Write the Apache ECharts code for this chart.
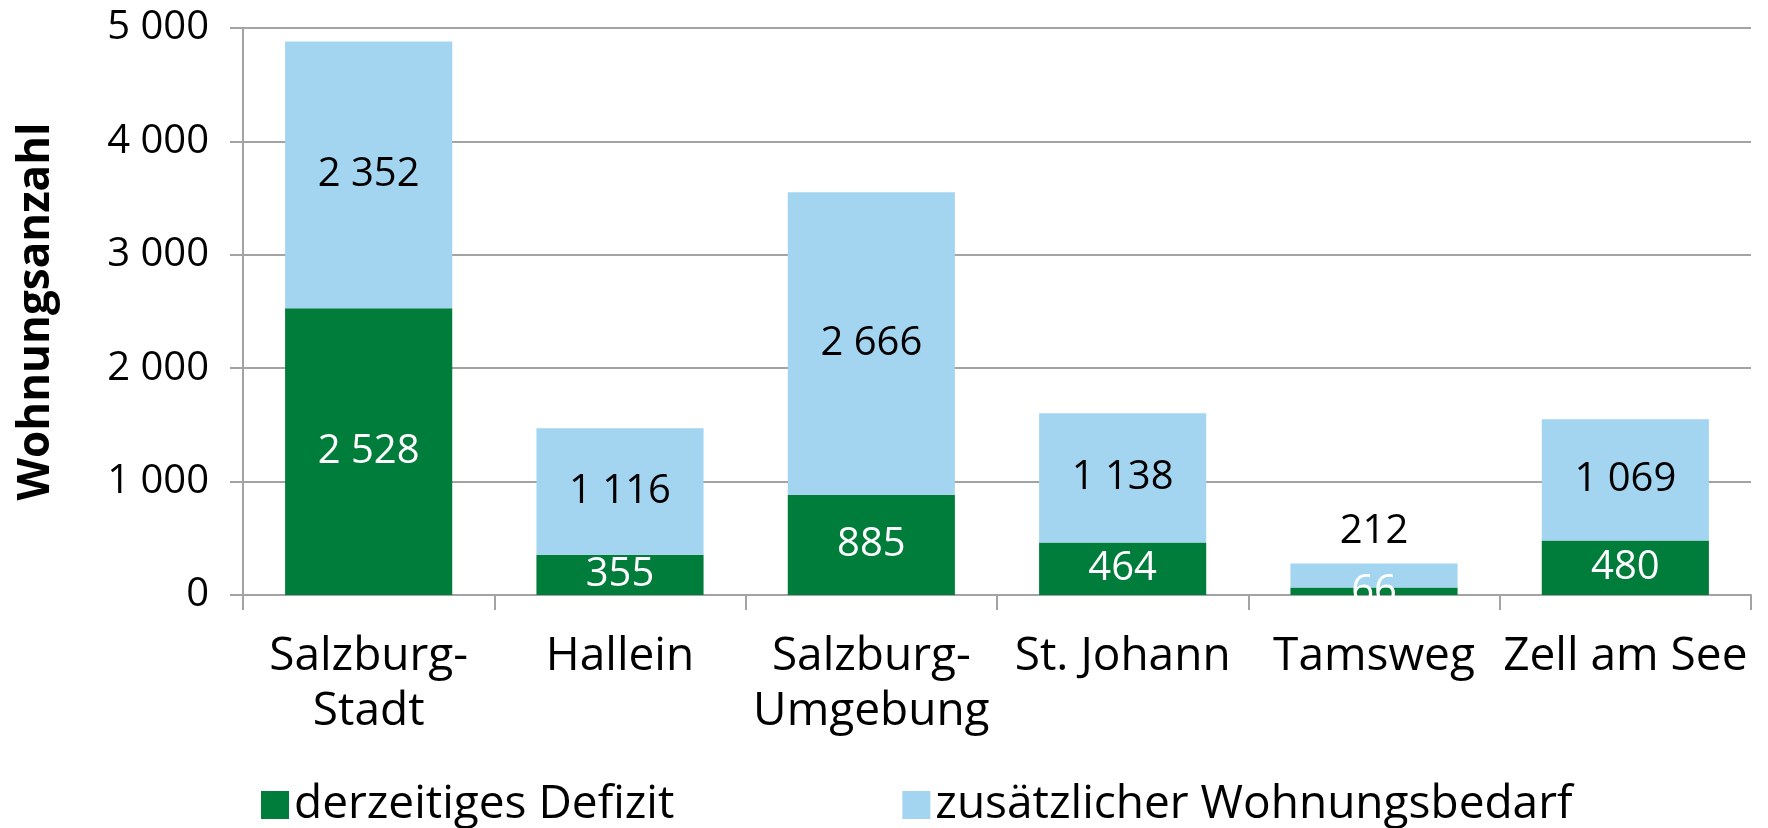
<!DOCTYPE html>
<html><head><meta charset="utf-8">
<script src="https://cdn.jsdelivr.net/npm/echarts@6/dist/echarts.min.js"></script>
<style>html,body{margin:0;padding:0;background:#fff}#c{width:1768px;height:828px}</style>
</head><body><div id="c"></div>
<script>
const categories = ['Salzburg-\nStadt', 'Hallein', 'Salzburg-\nUmgebung', 'St. Johann', 'Tamsweg', 'Zell am See'];
const defizit = [2528, 355, 885, 464, 66, 480];
const zusaetzlich = [2352, 1116, 2666, 1138, 212, 1069];
const seriesNames = ['derzeitiges Defizit', 'zusätzlicher Wohnungsbedarf'];
const yTicks = [0, 1000, 2000, 3000, 4000, 5000];
const yTitle = 'Wohnungsanzahl';

const FONT = '"Open Sans", sans-serif';
const fmt = v => String(v).replace(/\B(?=(\d{3})+(?!\d))/g, ' ');
const chart = echarts.init(document.getElementById('c'), null, {renderer: 'canvas'});
const gridColor = '#A3A3A3';

chart.setOption({
  animation: false,
  textStyle: {fontFamily: FONT},
  grid: {left: 243, right: 17, top: 28, bottom: 233, containLabel: false},
  legend: {
    left: 256, top: 777, itemWidth: 28, itemHeight: 28, itemGap: 228,
    icon: 'rect',
    textStyle: {fontFamily: FONT, fontSize: 46, color: '#000', padding: [0, 0, 0, 0]},
    data: seriesNames
  },
  xAxis: {
    type: 'category', data: categories,
    axisLine: {lineStyle: {color: gridColor, width: 2}},
    axisTick: {show: true, length: 15, lineStyle: {color: gridColor, width: 2}},
    axisLabel: {interval: 0, fontFamily: FONT, fontSize: 46, color: '#000', lineHeight: 55, margin: 34}
  },
  yAxis: {
    type: 'value', min: yTicks[0], max: yTicks[yTicks.length - 1], interval: 1000,
    name: yTitle, nameLocation: 'middle', nameGap: 185, nameRotate: 90,
    nameTextStyle: {fontFamily: FONT, fontSize: 44, fontWeight: 'bold', color: '#000'},
    axisLine: {show: true, lineStyle: {color: gridColor, width: 2}},
    axisTick: {show: true, length: 13, lineStyle: {color: gridColor, width: 2}},
    splitLine: {lineStyle: {color: gridColor, width: 2}},
    axisLabel: {fontFamily: FONT, fontSize: 40, color: '#000', margin: 34, formatter: v => fmt(v)}
  },
  series: [
    {
      name: seriesNames[0], type: 'bar', stack: 'a', data: defizit,
      barCategoryGap: '33.5%',
      itemStyle: {color: '#007C3B'},
      label: {show: true, position: 'inside', fontFamily: FONT, fontSize: 40, color: '#fff', formatter: p => fmt(p.value)}
    },
    {
      name: seriesNames[1], type: 'bar', stack: 'a',
      data: zusaetzlich.map((v, i) => i === 4 ? {value: v, label: {position: 'top', distance: 12}} : v),
      itemStyle: {color: '#A3D5F1'},
      label: {show: true, position: 'inside', fontFamily: FONT, fontSize: 40, color: '#000', formatter: p => fmt(p.value)}
    }
  ]
});
</script></body></html>
